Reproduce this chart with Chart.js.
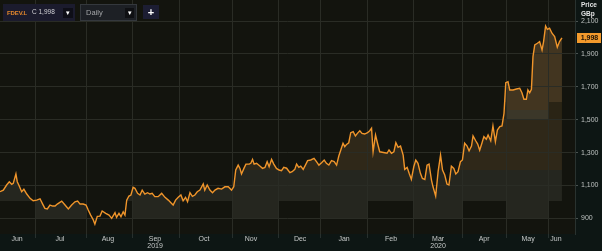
<!DOCTYPE html>
<html>
<head>
<meta charset="utf-8">
<script src="https://cdn.jsdelivr.net/npm/chart.js@4.4.1/dist/chart.umd.min.js"></script>
<style>
  html,body{margin:0;padding:0;background:#0d1614;}
  #wrap{position:relative;width:602px;height:251px;overflow:hidden;background:#0d1614;font-family:"Liberation Sans",Arial,sans-serif;}
  canvas{position:absolute;left:0;top:0;}
  .ab{position:absolute;white-space:nowrap;line-height:1;}
</style>
</head>
<body>
<div id="wrap">
  <canvas id="c" width="602" height="251"></canvas>
  <div class="ab" style="left:3px;top:4px;width:72px;height:17px;background:#1b1b2d;"></div>
  <div class="ab" style="left:7px;top:9.5px;font-size:6px;font-weight:bold;color:#e4882c;letter-spacing:-0.1px;">FDEV.L</div>
  <div class="ab" style="left:32px;top:9px;font-size:6.5px;color:#d2d2d6;">C 1,998</div>
  <div class="ab" style="left:63px;top:8px;width:10px;height:10px;background:#0e0e17;color:#fff;font-size:7px;text-align:center;line-height:10px;">&#9662;</div>
  <div class="ab" style="left:80px;top:4px;width:55px;height:15px;background:#1d2025;border:1px solid #34383d;"></div>
  <div class="ab" style="left:86px;top:9px;font-size:7.5px;color:#a2a4a6;">Daily</div>
  <div class="ab" style="left:125px;top:8px;width:9px;height:10px;background:#0f1013;color:#fff;font-size:7px;text-align:center;line-height:10px;">&#9662;</div>
  <div class="ab" style="left:143px;top:5px;width:16px;height:14px;background:#1c1d33;color:#fff;font-size:11px;font-weight:bold;text-align:center;line-height:14px;">+</div>
  <div class="ab" style="left:581px;top:2px;font-size:6.5px;font-weight:bold;color:#e2e4e4;">Price</div>
  <div class="ab" style="left:581px;top:11px;font-size:6.5px;font-weight:bold;color:#e2e4e4;">GBp</div>
</div>
<script>
// ---- data (x = trading-day index from the first point, y = price in GBp) ----
const days = [0,1.5,3,4.2,5.3,6,7.2,7.8,8.7,9.8,
  10.8,12.1,13.6,15,16.6,18.1,19.3,20.3,21.4,22.6,
  23.8,24.9,25.9,27.9,29.4,30.9,32.4,33.9,35.1,36.2,
  37.6,38.9,39.9,41,42.2,42.9,44,45.2,46.2,47.8,
  49.3,50.5,52,52.7,53.8,54.7,55.7,56.5,57.3,58.3,
  59.2,60.2,61,62.2,63.3,64.3,65.5,66.7,67.8,68.8,
  70,71.5,73.1,74.6,76.1,77.6,78.3,79.4,80.6,81.8,
  82.8,83.9,84.8,85.9,87,88.1,89.2,90.4,91.9,92.6,
  93.7,94.9,96.1,97.2,98.6,100.2,101.7,103.2,104.7,105.7,
  106.6,107.7,108.5,109.2,110.3,111.2,112.7,113.4,114.2,114.9,
  116,117.5,118.7,119.8,120.8,121.7,122.8,123.8,125,126.2,
  127.3,128.3,129.6,131.1,132.1,133.3,134.1,135.1,136,137.1,
  138.1,139.1,140.5,142,143.1,144.2,145.4,146.6,147.6,148.7,
  149.9,151.1,152.2,153.2,154.1,155.1,155.9,156.7,157.7,158.6,
  159.7,160.7,161.6,162.7,163.7,164.9,166.2,167.2,168,168.7,
  169.8,170.7,171.7,172.8,174,175,175.9,177,178.1,179,
  180,181.1,182.3,183,184.1,185,186,187.1,188,189,
  190.1,191,192.1,193.1,194,195.1,195.8,197,198.1,199.2,
  200.1,201.1,202.1,203,204.1,205.2,206.1,207.1,208.2,209.1,
  210.1,211.2,212.1,213.2,213.9,215.1,216,216.9,217.9,218.8,
  219.9,220.7,221.9,222.9,224,224.9,226,227,227.9,228.7,
  229.7,230.5,232,233.5,235,236,236.9,238,238.7,239.5,
  240.3,241,241.8,243,244,245.1,245.8,246.7,247.5,248.5,
  249.6,250.8,252,253,254.1];
const prices = [1062,1072,1103,1123,1107,1113,1170,1123,1097,1062,
  1077,1048,1022,1007,1011,1019,987,961,957,981,
  975,975,987,1005,981,957,981,1001,1005,987,
  987,981,951,920,890,865,912,914,945,931,
  920,900,934,906,930,910,940,920,1011,1036,
  1042,1089,1083,1052,1042,1072,1048,1056,1048,1052,
  1032,1032,1052,1028,1011,991,981,1011,1028,1042,
  1007,1028,1001,1056,1034,1042,1062,1072,1109,1072,
  1103,1072,1056,1072,1083,1078,1092,1092,1072,1092,
  1194,1224,1204,1170,1204,1230,1230,1235,1259,1230,
  1235,1218,1204,1210,1245,1214,1259,1230,1204,1194,
  1190,1210,1205,1178,1184,1198,1230,1210,1218,1198,
  1224,1251,1255,1265,1245,1224,1238,1255,1235,1224,
  1251,1245,1224,1279,1316,1357,1336,1350,1360,1421,
  1427,1401,1417,1433,1417,1413,1421,1433,1448,1305,
  1407,1357,1305,1302,1299,1296,1316,1296,1305,1360,
  1332,1340,1285,1198,1210,1174,1137,1214,1255,1235,
  1174,1143,1137,1224,1230,1133,1092,1036,1184,1285,
  1194,1164,1109,1103,1218,1204,1170,1184,1245,1255,
  1357,1340,1311,1340,1401,1372,1352,1315,1357,1397,
  1381,1407,1372,1462,1366,1437,1458,1462,1539,1725,
  1731,1681,1681,1687,1691,1664,1624,1624,1681,1664,
  1685,1884,1955,1965,1975,1924,1975,2070,2050,2056,
  2026,2005,1941,1975,1998];
const monthStarts  = [16,39,60,81,105,126,145,166,187,209,229,248];
const monthCenters = [7.7,27.1,48.8,70.1,92.2,113.5,135.7,155.6,176.8,198.1,218.9,238.8,251.4];
const monthNames   = ['Jun','Jul','Aug','Sep','Oct','Nov','Dec','Jan','Feb','Mar','Apr','May','Jun'];
const yearNames    = ['','','','2019','','','','','','2020','','',''];
const yTicks       = [900,1100,1300,1500,1700,1900,2100];
const lastPrice    = 1998;

// ---- styling ----
const PLOT_BG = '#13140e';
const GRID = '#2a2c25';
const bands = [
  {from: 900,  to: 1005, light: '#25261f', dark: null},
  {from: 1005, to: 1194, light: '#25261f', dark: '#25261f'},
  {from: 1194, to: 1498, light: '#2f2819', dark: '#2f2819'},
  {from: 1498, to: 1559, light: '#3b3729', dark: '#2a2415'},
  {from: 1559, to: 1610, light: '#423520', dark: '#2a2415'},
  {from: 1610, to: 2300, light: '#423520', dark: '#423520'}
];

const bandPlugin = {
  id: 'bands',
  beforeDraw(chart) {
    const {ctx, chartArea: a, scales: {x, y}} = chart;
    ctx.save();
    ctx.fillStyle = PLOT_BG;
    ctx.fillRect(a.left, a.top, a.right - a.left, a.bottom - a.top);
    const pts = chart.getDatasetMeta(0).data;
    ctx.beginPath();
    ctx.moveTo(pts[0].x, a.bottom);
    pts.forEach(p => ctx.lineTo(p.x, p.y));
    ctx.lineTo(pts[pts.length - 1].x, a.bottom);
    ctx.closePath();
    ctx.clip();
    const bounds = [x.min, ...monthStarts, x.max];
    for (let m = 0; m < bounds.length - 1; m++) {
      const x0 = Math.round(x.getPixelForValue(bounds[m]));
      const x1 = Math.round(x.getPixelForValue(bounds[m + 1]));
      const light = m % 2 === 1;
      bands.forEach(b => {
        const c = light ? b.light : b.dark;
        if (!c) return;
        const y0 = Math.round(y.getPixelForValue(b.to));
        const y1 = Math.round(y.getPixelForValue(b.from));
        ctx.fillStyle = c;
        ctx.fillRect(x0, y0, x1 - x0, y1 - y0);
      });
    }
    ctx.restore();
  },
  afterDraw(chart) {
    const {ctx, scales: {y}} = chart;
    const py = Math.round(y.getPixelForValue(lastPrice));
    ctx.save();
    ctx.fillStyle = '#f39a2c';
    ctx.fillRect(y.left + 2, py - 5, y.right - y.left - 3, 10);
    ctx.fillStyle = '#1a1207';
    ctx.font = 'bold 7px "Liberation Sans", Arial, sans-serif';
    ctx.textAlign = 'center';
    ctx.textBaseline = 'middle';
    ctx.fillText(lastPrice.toLocaleString('en-US'), (y.left + y.right) / 2 + 1, py + 0.5);
    ctx.restore();
  }
};

Chart.defaults.font.family = '"Liberation Sans", Arial, sans-serif';

new Chart(document.getElementById('c'), {
  type: 'line',
  data: {
    datasets: [{
      data: days.map((d, i) => ({x: d, y: prices[i]})),
      borderColor: '#f0952b',
      borderWidth: 1.4,
      pointRadius: 0,
      fill: false,
      tension: 0
    }]
  },
  options: {
    responsive: false,
    animation: false,
    devicePixelRatio: 1,
    layout: {padding: 0},
    plugins: {legend: {display: false}, tooltip: {enabled: false}},
    scales: {
      x: {
        type: 'linear', position: 'bottom', min: 0, max: 260,
        afterBuildTicks: s => {
          s.ticks = [...monthStarts, ...monthCenters].sort((a, b) => a - b).map(v => ({value: v}));
        },
        ticks: {
          autoSkip: false, maxRotation: 0, minRotation: 0, padding: -3,
          color: '#c6c9c8', font: {size: 7, lineHeight: 1.05},
          callback: v => {
            const i = monthCenters.indexOf(v);
            if (i < 0) return '';
            return yearNames[i] ? [monthNames[i], yearNames[i]] : monthNames[i];
          }
        },
        grid: {
          color: c => (c.tick && monthStarts.includes(c.tick.value)) ? GRID : 'rgba(0,0,0,0)',
          tickColor: c => (c.tick && monthStarts.includes(c.tick.value)) ? '#27302e' : 'rgba(0,0,0,0)',
          tickLength: 4, drawTicks: true
        },
        border: {display: false},
        afterFit: s => { s.height = 17; s.paddingLeft = 0; s.paddingRight = 0; }
      },
      y: {
        type: 'linear', position: 'right', min: 805, max: 2228,
        afterBuildTicks: s => { s.ticks = yTicks.map(v => ({value: v})); },
        ticks: {
          color: '#bcc0bf', font: {size: 7}, padding: 3,
          callback: v => v.toLocaleString('en-US')
        },
        grid: {color: GRID, tickColor: '#4a5250', tickLength: 3, drawTicks: true},
        border: {display: true, color: '#29322f'},
        afterFit: s => { s.width = 27; s.paddingTop = 0; s.paddingBottom = 0; }
      }
    }
  },
  plugins: [bandPlugin]
});
</script>
</body>
</html>
